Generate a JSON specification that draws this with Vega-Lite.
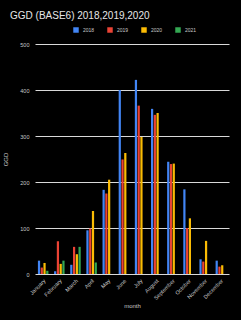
{
  "$schema": "https://vega.github.io/schema/vega-lite/v6.json",
  "autosize": "none",
  "width": 194,
  "height": 230,
  "padding": {"left": 35, "top": 44, "right": 12, "bottom": 46},
  "background": "#000000",
  "config": {"view": {"stroke": null}, "font": "Liberation Sans"},
  "title": {"text": "GGD (BASE6) 2018,2019,2020", "anchor": "start", "frame": "group", "dx": -25, "offset": 6, "fontSize": 10, "fontWeight": "normal", "color": "#e6e6e6"},
  "data": {"values": [
    {"month": "January", "year": "2018", "ggd": 29},
    {"month": "January", "year": "2019", "ggd": 14},
    {"month": "January", "year": "2020", "ggd": 24},
    {"month": "January", "year": "2021", "ggd": 7},
    {"month": "February", "year": "2018", "ggd": 6},
    {"month": "February", "year": "2019", "ggd": 71},
    {"month": "February", "year": "2020", "ggd": 22},
    {"month": "February", "year": "2021", "ggd": 29},
    {"month": "March", "year": "2018", "ggd": 20},
    {"month": "March", "year": "2019", "ggd": 59},
    {"month": "March", "year": "2020", "ggd": 43},
    {"month": "March", "year": "2021", "ggd": 59},
    {"month": "April", "year": "2018", "ggd": 95},
    {"month": "April", "year": "2019", "ggd": 99},
    {"month": "April", "year": "2020", "ggd": 137},
    {"month": "April", "year": "2021", "ggd": 25},
    {"month": "May", "year": "2018", "ggd": 183},
    {"month": "May", "year": "2019", "ggd": 175},
    {"month": "May", "year": "2020", "ggd": 205},
    {"month": "June", "year": "2018", "ggd": 400},
    {"month": "June", "year": "2019", "ggd": 249},
    {"month": "June", "year": "2020", "ggd": 263},
    {"month": "July", "year": "2018", "ggd": 422},
    {"month": "July", "year": "2019", "ggd": 366},
    {"month": "July", "year": "2020", "ggd": 298},
    {"month": "August", "year": "2018", "ggd": 359},
    {"month": "August", "year": "2019", "ggd": 346},
    {"month": "August", "year": "2020", "ggd": 350},
    {"month": "September", "year": "2018", "ggd": 244},
    {"month": "September", "year": "2019", "ggd": 239},
    {"month": "September", "year": "2020", "ggd": 240},
    {"month": "October", "year": "2018", "ggd": 184},
    {"month": "October", "year": "2019", "ggd": 100},
    {"month": "October", "year": "2020", "ggd": 121},
    {"month": "November", "year": "2018", "ggd": 32},
    {"month": "November", "year": "2019", "ggd": 27},
    {"month": "November", "year": "2020", "ggd": 72},
    {"month": "December", "year": "2018", "ggd": 29},
    {"month": "December", "year": "2019", "ggd": 16},
    {"month": "December", "year": "2020", "ggd": 19}
  ]},
  "mark": {"type": "bar"},
  "encoding": {
    "x": {"field": "month", "type": "nominal", "sort": null,
      "scale": {"paddingInner": 0.35, "paddingOuter": 0.18},
      "axis": {"title": "month", "labelAngle": -45, "labelFontSize": 5.5, "labelColor": "#c8c8c8", "titleFontSize": 6, "titleFontWeight": "normal", "titleColor": "#c8c8c8", "domain": false, "ticks": false, "labelPadding": 4, "titlePadding": 2}},
    "xOffset": {"field": "year", "type": "nominal", "scale": {"domain": ["2018", "2019", "2020", "2021"], "paddingInner": 0.2}},
    "y": {"field": "ggd", "type": "quantitative",
      "scale": {"domain": [0, 500]},
      "axis": {"title": "GGD", "values": [0, 100, 200, 300, 400, 500], "labelFontSize": 5.5, "labelColor": "#c8c8c8", "titleFontSize": 6, "titleFontWeight": "normal", "titleColor": "#c8c8c8", "domain": false, "ticks": false, "gridColor": "#d9d9d9", "gridWidth": 1, "gridOpacity": 1, "labelPadding": 6, "titlePadding": 11}},
    "color": {"field": "year", "type": "nominal",
      "scale": {"domain": ["2018", "2019", "2020", "2021"], "range": ["#4285F4", "#EA4335", "#FBBC04", "#34A853"]},
      "legend": {"title": null, "orient": "none", "legendX": 38, "legendY": -17, "direction": "horizontal", "symbolType": "square", "symbolSize": 30, "symbolStrokeWidth": 0, "labelFontSize": 5, "labelColor": "#c8c8c8", "columnPadding": 12}}
  }
}
